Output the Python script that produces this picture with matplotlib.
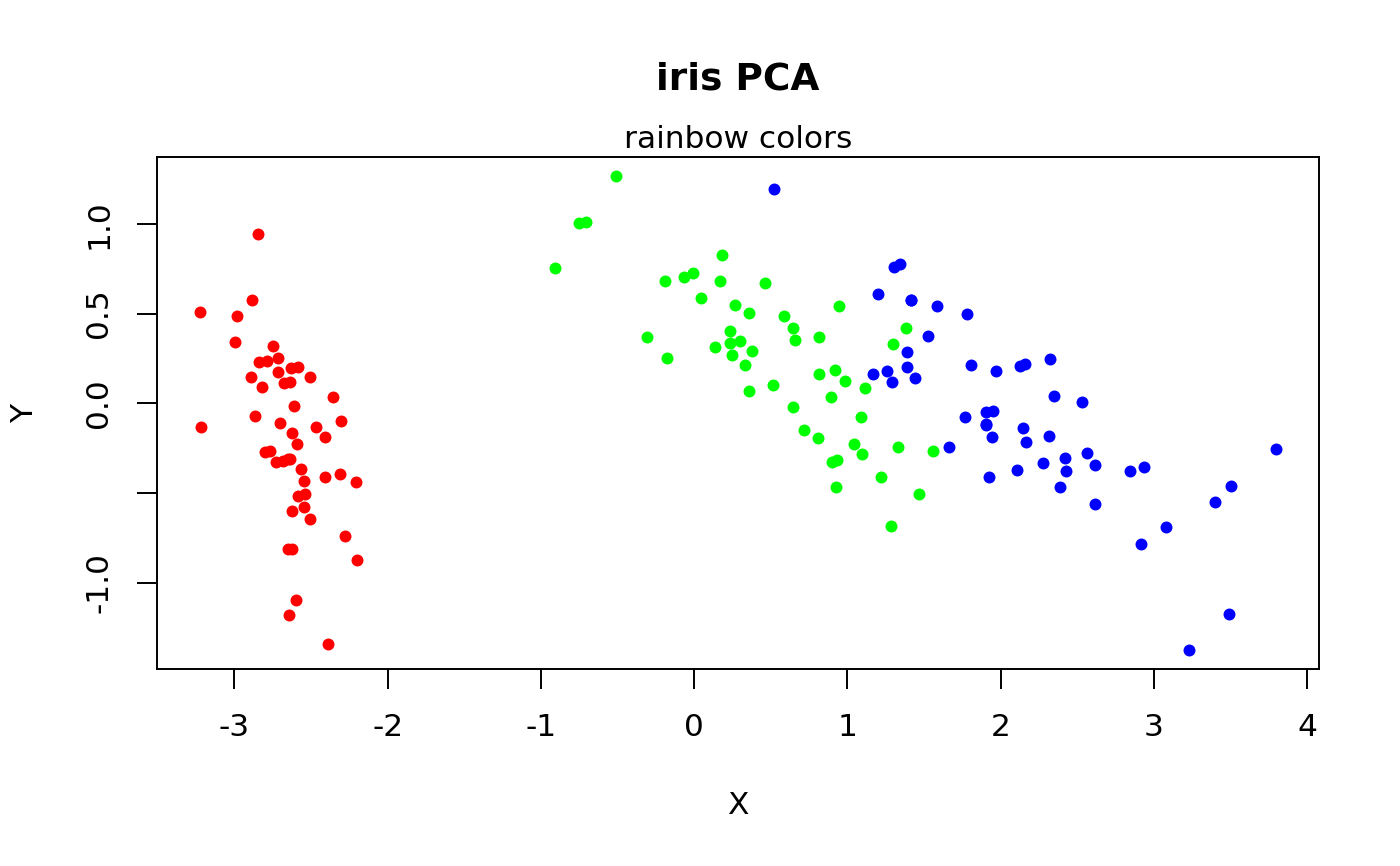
import matplotlib
matplotlib.use("Agg")
import matplotlib.pyplot as plt
import numpy as np

plt.rcParams['font.family'] = ['DejaVu Sans']
plt.rcParams['axes.unicode_minus'] = False

# PC1 / PC2 scores per species
setosa_x = [-2.684, -2.714, -2.889, -2.745, -2.729, -2.281, -2.821, -2.626, -2.886, -2.673,
            -2.507, -2.613, -2.786, -3.224, -2.645, -2.386, -2.624, -2.648, -2.200, -2.588,
            -2.310, -2.544, -3.216, -2.303, -2.356, -2.507, -2.469, -2.562, -2.640, -2.632,
            -2.587, -2.410, -2.649, -2.599, -2.637, -2.866, -2.625, -2.801, -2.981, -2.590,
            -2.770, -2.849, -2.997, -2.406, -2.209, -2.714, -2.538, -2.839, -2.543, -2.703]
setosa_y = [-0.319, 0.177, 0.145, 0.318, -0.327, -0.741, 0.089, -0.163, 0.578, 0.114,
            -0.645, -0.015, 0.235, 0.511, -1.179, -1.338, -0.811, -0.312, -0.873, -0.514,
            -0.391, -0.433, -0.133, -0.099, 0.037, 0.146, -0.131, -0.368, -0.312, 0.197,
            0.204, -0.411, -0.813, -1.093, 0.121, -0.069, -0.599, -0.269, 0.488, -0.229,
            -0.264, 0.941, 0.342, -0.189, -0.437, 0.250, -0.504, 0.228, -0.579, -0.108]

versicolor_x = [1.285, 0.932, 1.464, 0.183, 1.088, 0.642, 1.095, -0.749, 1.044, -0.009,
                -0.508, 0.512, 0.265, 0.985, -0.174, 0.928, 0.660, 0.236, 0.945, 0.045,
                1.116, 0.358, 1.298, 0.922, 0.715, 0.900, 1.332, 1.558, 0.813, -0.306,
                -0.068, -0.190, 0.136, 1.380, 0.588, 0.807, 1.221, 0.815, 0.246, 0.166,
                0.465, 0.891, 0.231, -0.705, 0.357, 0.332, 0.376, 0.643, -0.906, 0.299]
versicolor_y = [-0.685, -0.318, -0.504, 0.828, -0.075, 0.418, -0.283, 1.005, -0.228, 0.723,
                1.266, 0.104, 0.550, 0.125, 0.255, -0.467, 0.353, 0.334, 0.543, 0.584,
                0.085, 0.069, 0.328, 0.183, -0.149, -0.329, -0.244, -0.267, 0.163, 0.368,
                0.705, 0.680, 0.314, 0.421, 0.484, -0.194, -0.408, 0.372, 0.269, 0.682,
                0.671, 0.034, 0.404, 1.012, 0.505, 0.213, 0.293, -0.018, 0.756, 0.349]

virginica_x = [2.531, 1.415, 2.617, 1.972, 2.350, 3.397, 0.521, 2.933, 2.321, 2.917,
               1.662, 1.803, 2.166, 1.346, 1.586, 1.904, 1.950, 3.487, 3.796, 1.301,
               2.428, 1.199, 3.500, 1.389, 2.275, 2.614, 1.259, 1.291, 2.124, 2.388,
               2.842, 3.231, 2.159, 1.444, 1.781, 3.076, 2.144, 1.905, 1.169, 2.108,
               2.314, 1.922, 1.415, 2.563, 2.419, 1.944, 1.527, 1.764, 1.901, 1.390]
virginica_y = [0.010, 0.575, -0.344, 0.180, 0.040, -0.551, 1.193, -0.356, 0.244, -0.783,
               -0.242, 0.216, -0.216, 0.777, 0.540, -0.119, -0.042, -1.176, -0.257, 0.761,
               -0.378, 0.606, -0.461, 0.204, -0.335, -0.561, 0.180, 0.117, 0.210, -0.465,
               -0.375, -1.374, 0.217, 0.143, 0.500, -0.688, -0.140, -0.049, 0.165, -0.372,
               -0.184, -0.409, 0.575, -0.278, -0.305, -0.188, 0.375, -0.079, -0.117, 0.283]

groups = [(setosa_x, setosa_y, '#FF0000'),
          (versicolor_x, versicolor_y, '#00FF00'),
          (virginica_x, virginica_y, '#0000FF')]

x_ticks = [-3, -2, -1, 0, 1, 2, 3, 4]
x_tick_labels = ['-3', '-2', '-1', '0', '1', '2', '3', '4']
y_ticks = [-1.0, -0.5, 0.0, 0.5, 1.0]
y_tick_labels = ['-1.0', '', '0.0', '0.5', '1.0']

W, H = 1400, 866
fig = plt.figure(figsize=(14, 8.66), dpi=100)
ax = fig.add_axes([157 / W, 1 - 669 / H, (1319 - 157) / W, (669 - 157) / H])

for xs, ys, c in groups:
    ax.scatter(xs, ys, s=8.6 ** 2, c=c, linewidths=0, zorder=3)

allx = np.concatenate([setosa_x, versicolor_x, virginica_x])
ally = np.concatenate([setosa_y, versicolor_y, virginica_y])
rx = allx.max() - allx.min()
ry = ally.max() - ally.min()
ax.set_xlim(allx.min() - 0.04 * rx, allx.max() + 0.04 * rx)
ax.set_ylim(ally.min() - 0.04 * ry, ally.max() + 0.04 * ry)

fs = 22.5
ax.set_xticks(x_ticks)
ax.set_xticklabels(x_tick_labels, fontsize=fs)
ax.set_yticks(y_ticks)
ax.set_yticklabels(y_tick_labels, fontsize=fs, rotation=90, va='center')
ax.tick_params(direction='out', length=14.4, width=1.4, pad=17, colors='black')
for sp in ax.spines.values():
    sp.set_linewidth(1.4)

fig.text(738 / W, 1 - 80 / H, 'iris PCA', fontsize=fs * 1.2, fontweight='bold',
         ha='center', va='center')
fig.text(738 / W, 1 - 140 / H, 'rainbow colors', fontsize=fs, ha='center', va='center')
fig.text(738 / W, 1 - 805 / H, 'X', fontsize=fs, ha='center', va='center')
fig.text(25 / W, 1 - 413 / H, 'Y', fontsize=fs, ha='center', va='center', rotation=90)

fig.savefig('out.png', dpi=100)
